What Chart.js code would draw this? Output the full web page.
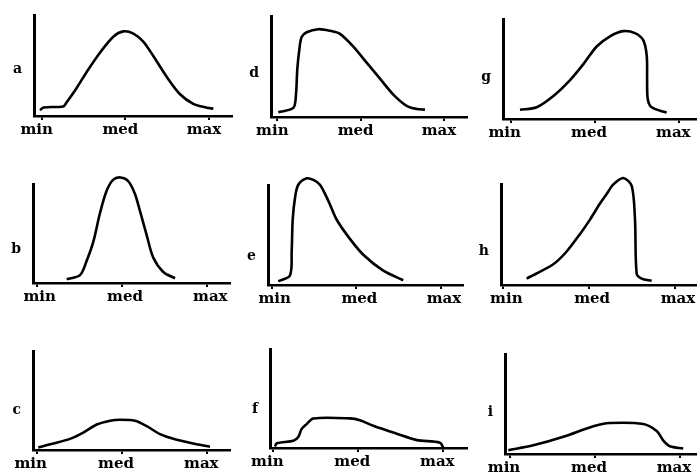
<!DOCTYPE html>
<html>
<head>
<meta charset="utf-8">
<script src="https://cdn.jsdelivr.net/npm/chart.js@4"></script>
<style>
html, body { margin: 0; padding: 0; background: #fff; }
body { width: 697px; height: 474px; position: relative; overflow: hidden; }
canvas { position: absolute; }
</style>
</head>
<body>
<script>
// tick labels on every x axis
const tickNames = ["min", "med", "max"];
const tickValues = [0, 50, 100];

// panel letters and the height they sit at (share of the y axis)
const panelLetters = ["a", "b", "c", "d", "e", "f", "g", "h", "i"];
const letterHeights = [46, 34, 40, 43, 29, 39, 42, 33, 42];

// curves: x = 0 (min) .. 100 (max), y = 0 .. 100 (top of y axis)
const curveA = [[-1,5.7],[1,8.5],[12.9,9.5],[14.9,13.6],[20.9,27.9],[26.9,43.8],[34.8,62.9],[42.8,78.8],[48.8,84.1],[54.8,81.9],[60.7,74],[66.7,59.7],[74.7,39],[82.7,21.6],[90.6,12.1],[98.6,8.3],[102.6,7.3]];
const curveB = [[17.6,3.9],[25.4,8],[29.3,22.6],[33.2,41.9],[37.1,71],[41,93.5],[44.9,104.8],[49.2,107],[53.7,103.2],[57.6,90.3],[60.6,72.6],[64.5,48.4],[68.3,25.8],[74.2,11.2],[81.1,4.8]];
const curveC = [[0.9,2.6],[9.7,6.5],[19.5,11.3],[27.3,17.7],[35.2,25.8],[43,29.7],[48.8,30.7],[57.6,29.7],[64.5,24.2],[72.3,16.1],[80.1,11.3],[91.8,6.5],[101.6,3.2]];
const curveD = [[0.6,4.8],[9.6,9],[11.2,22.3],[12,47.6],[13.2,66.7],[14.6,79.4],[17.6,84.2],[24.6,87.3],[31.6,85.7],[37.6,82.6],[45.6,69.9],[53.6,54],[61.6,38.1],[69.6,22.3],[77.6,11.1],[83.6,8],[88.6,7.3]];
const curveE = [[3.9,3.8],[10.8,9.6],[11.8,33.6],[12.4,65.5],[13.8,87.9],[15.7,100.7],[20.7,107.1],[24.6,105.5],[28.5,100.7],[33.4,84.7],[38.4,65.5],[46.2,46.3],[54.1,30.4],[65.9,14.4],[77.7,4.8]];
const curveF = [[1,1.5],[2,4.8],[11.8,7.4],[14.7,11.2],[16.7,19.4],[19.6,24.2],[23.5,30],[45.1,30],[51,28.1],[58.8,22.6],[72.6,14.5],[84.4,8],[98.1,5.4],[100,0]];
const curveG = [[5.5,9.3],[15.4,11.8],[25.3,23.1],[35.2,39.1],[43.1,55.1],[51,72.8],[58.9,83],[66.8,88.2],[73.7,86.2],[78.6,79.1],[80.7,63.2],[80.9,37.5],[81.3,19.9],[83.6,11.8],[92.5,6.4]];
const curveH = [[13.6,6.4],[29.1,20.6],[36.9,33.3],[44.7,50.8],[50.5,65],[56.3,81],[60.2,90.5],[64.1,100],[69.9,106.4],[74.8,98.4],[76.7,65],[77.7,11.1],[80.6,6.4],[86.4,4.1]];
const curveI = [[-1,3.8],[13.7,8.7],[31.4,17.3],[49,27.9],[58.8,31.1],[78.4,30.1],[86.3,23.1],[90.2,13.5],[94.1,7.7],[101.9,5.5]];

const curves = [curveA, curveB, curveC, curveD, curveE, curveF, curveG, curveH, curveI];

// page layout of each panel: y axis x, axis top, axis bottom, axis right end,
// pixel of "min" tick, pixel of "max" tick, label shift
const boxes = [
    {L: 34,  T: 11,  B: 116, R: 232, m0: 41.7,  m1: 209,   off: -5},
    {L: 33,  T: 180, B: 283, R: 230, m0: 36.7,  m1: 207.3, off: 3},
    {L: 33,  T: 347, B: 450, R: 230, m0: 36.7,  m1: 207.3, off: -6},
    {L: 271, T: 12,  B: 117, R: 467, m0: 277.3, m1: 444,   off: -5},
    {L: 268, T: 181, B: 285, R: 463, m0: 271.7, m1: 441,   off: 3},
    {L: 270, T: 345, B: 448, R: 467, m0: 273.3, m1: 443.3, off: -6},
    {L: 503, T: 15,  B: 119, R: 697, m0: 510.7, m1: 679.3, off: -6},
    {L: 501, T: 180, B: 285, R: 697, m0: 503.3, m1: 675,   off: 3},
    {L: 505, T: 350, B: 454, R: 697, m0: 510,   m1: 680,   off: -6}
];

const YW = 34, XH = 26, PT = 16;

boxes.forEach((b, k) => {
    const cv = document.createElement("canvas");
    cv.width = b.R - b.L + YW + 2;
    cv.height = b.B - b.T + PT + XH;
    cv.style.left = (b.L - YW) + "px";
    cv.style.top = (b.T - PT) + "px";
    document.body.appendChild(cv);

    const span = b.m1 - b.m0;
    const xmin = (b.L - b.m0) / span * 100;
    const xmax = (b.R - b.m0) / span * 100;

    new Chart(cv, {
        type: "line",
        data: {
            datasets: [{
                data: curves[k].map(p => ({x: p[0], y: p[1]})),
                borderColor: "#000",
                borderWidth: 2.6,
                pointRadius: 0,
                tension: 0.3,
                fill: false,
                clip: false
            }]
        },
        options: {
            responsive: false,
            animation: false,
            devicePixelRatio: 1,
            layout: {padding: {top: PT - 3, right: 2, left: 0, bottom: 0}},
            plugins: {legend: {display: false}, tooltip: {enabled: false}},
            scales: {
                x: {
                    type: "linear",
                    min: xmin,
                    max: xmax,
                    afterBuildTicks: s => { s.ticks = tickValues.map(v => ({value: v})); },
                    afterFit: s => { s.height = XH; },
                    grid: {display: true, drawOnChartArea: false, drawTicks: true, tickLength: 4, color: "#000", lineWidth: 2},
                    border: {display: true, color: "#000", width: 2.5},
                    ticks: {
                        autoSkip: false, maxRotation: 0, padding: 1, labelOffset: b.off,
                        color: "#000",
                        font: {family: "DejaVu Serif", size: 15, weight: "bold"},
                        callback: (v, i) => tickNames[i]
                    }
                },
                y: {
                    min: 0,
                    max: 100,
                    afterBuildTicks: s => { s.ticks = [{value: letterHeights[k]}]; },
                    afterFit: s => { s.width = YW; },
                    grid: {display: false, drawTicks: false},
                    border: {display: true, color: "#000", width: 3},
                    ticks: {
                        padding: 12, color: "#000",
                        font: {family: "DejaVu Serif", size: 14, weight: "bold"},
                        callback: () => panelLetters[k]
                    }
                }
            }
        }
    });
});
</script>
</body>
</html>
